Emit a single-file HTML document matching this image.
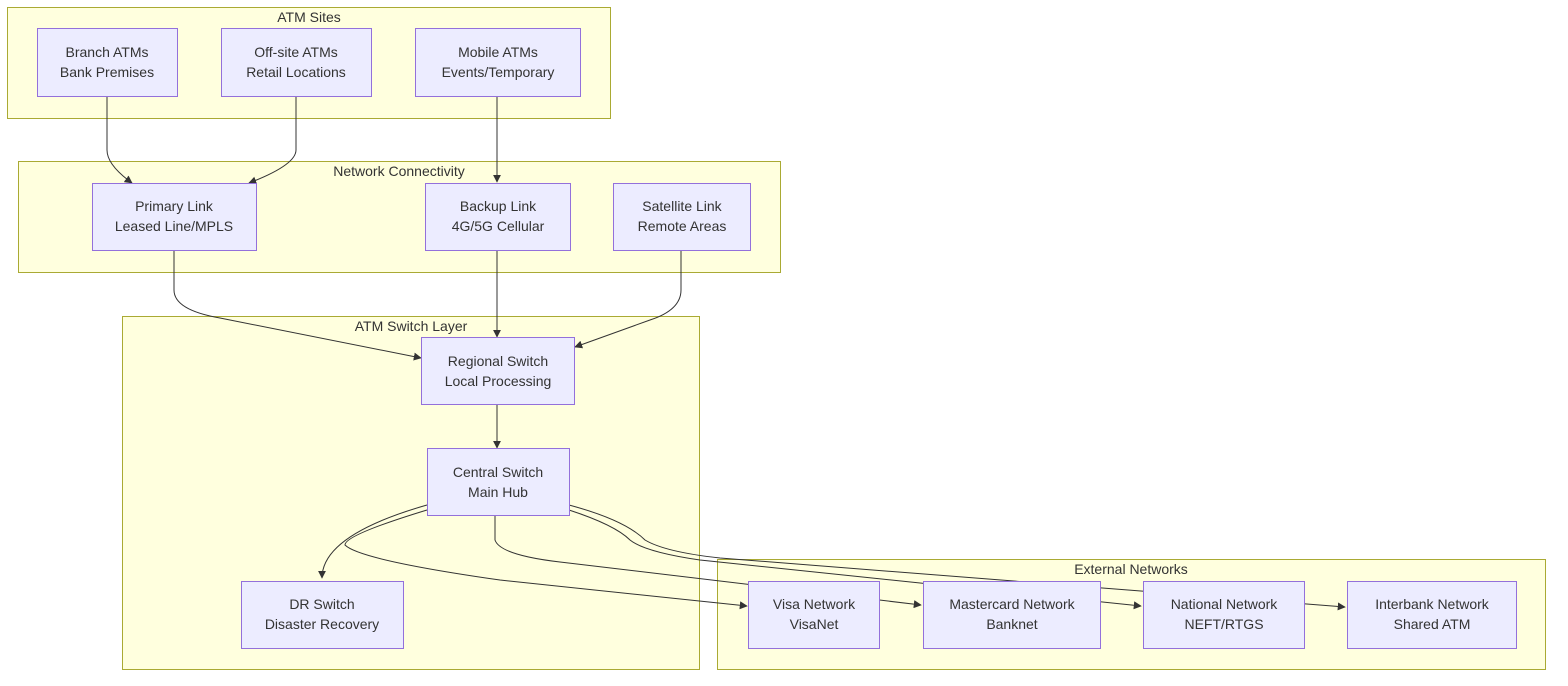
<!DOCTYPE html>
<html><head><meta charset="utf-8"><style>
html,body{margin:0;padding:0;background:#fff;}
svg{display:block;font-family:"Liberation Sans","DejaVu Sans",sans-serif;}
.c{fill:#ffffde;stroke:#aaaa33;stroke-width:1;}
.n{fill:#ececff;stroke:#9370db;stroke-width:1;}
.e{fill:none;stroke:#333;stroke-width:1;}
text{font-size:14px;fill:#333;text-anchor:middle;}
</style></head><body>
<svg width="1568" height="686" viewBox="0 0 1568 686">
<defs><marker id="a" viewBox="0 0 10 10" refX="9" refY="5" markerWidth="8" markerHeight="8" markerUnits="userSpaceOnUse" orient="auto"><path d="M0,0L10,5L0,10z" fill="#333"/></marker></defs>
<rect class="c" x="7.5" y="7.5" width="603" height="111"/>
<rect class="c" x="18.5" y="161.5" width="762" height="111"/>
<rect class="c" x="122.5" y="316.5" width="577" height="353"/>
<rect class="c" x="717.5" y="559.5" width="828" height="110"/>
<text x="309" y="22">ATM Sites</text>
<text x="399" y="176">Network Connectivity</text>
<text x="411" y="331">ATM Switch Layer</text>
<text x="1131" y="574">External Networks</text>
<g class="e" marker-end="url(#a)">
<path d="M107,96 V150 Q107,165 132,183"/>
<path d="M296,96 V150 Q296,165 249,183"/>
<path d="M497,96 V182"/>
<path d="M174,250 V290 Q174,310 220,318 L421,358"/>
<path d="M497,250 V337"/>
<path d="M681,250 V290 Q681,310 650,320 L575,347"/>
<path d="M497,404 V448"/>
<path d="M427,505 Q322,535 322,578"/>
<path d="M427,510 Q345,535 345,545 Q360,560 500,580 L747,606"/>
<path d="M495,515 V540 Q500,555 560,562 L921,605"/>
<path d="M569,510 Q615,525 630,540 Q645,552 700,560 L1141,606"/>
<path d="M569,505 Q625,520 645,540 Q665,552 720,558 L1345,607"/>
</g>
<g>
<rect class="n" x="37.5" y="28.5" width="140" height="68"/><text x="107" y="57">Branch ATMs</text><text x="107" y="77">Bank Premises</text>
<rect class="n" x="221.5" y="28.5" width="150" height="68"/><text x="296" y="57">Off-site ATMs</text><text x="296" y="77">Retail Locations</text>
<rect class="n" x="415.5" y="28.5" width="165" height="68"/><text x="498" y="57">Mobile ATMs</text><text x="498" y="77">Events/Temporary</text>
<rect class="n" x="92.5" y="183.5" width="164" height="67"/><text x="174" y="211">Primary Link</text><text x="174" y="231">Leased Line/MPLS</text>
<rect class="n" x="425.5" y="183.5" width="145" height="67"/><text x="498" y="211">Backup Link</text><text x="498" y="231">4G/5G Cellular</text>
<rect class="n" x="613.5" y="183.5" width="137" height="67"/><text x="682" y="211">Satellite Link</text><text x="682" y="231">Remote Areas</text>
<rect class="n" x="421.5" y="337.5" width="153" height="67"/><text x="498" y="366">Regional Switch</text><text x="498" y="386">Local Processing</text>
<rect class="n" x="427.5" y="448.5" width="142" height="67"/><text x="498" y="477">Central Switch</text><text x="498" y="497">Main Hub</text>
<rect class="n" x="241.5" y="581.5" width="162" height="67"/><text x="322" y="609">DR Switch</text><text x="322" y="629">Disaster Recovery</text>
<rect class="n" x="748.5" y="581.5" width="131" height="67"/><text x="814" y="609">Visa Network</text><text x="814" y="629">VisaNet</text>
<rect class="n" x="923.5" y="581.5" width="177" height="67"/><text x="1012" y="609">Mastercard Network</text><text x="1012" y="629">Banknet</text>
<rect class="n" x="1143.5" y="581.5" width="161" height="67"/><text x="1224" y="609">National Network</text><text x="1224" y="629">NEFT/RTGS</text>
<rect class="n" x="1347.5" y="581.5" width="169" height="67"/><text x="1432" y="609">Interbank Network</text><text x="1432" y="629">Shared ATM</text>
</g>
</svg>
</body></html>
